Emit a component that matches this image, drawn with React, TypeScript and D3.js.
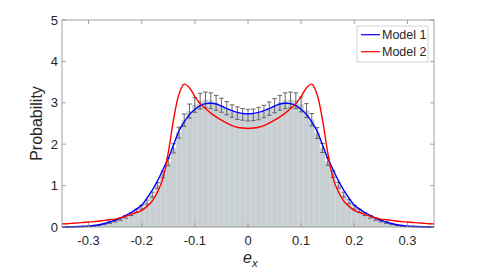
import React from "react";
import * as d3 from "d3";

// histogram bin centres, -0.34 ... 0.34 (bin width 0.01)
const binCenters = d3.range(-34, 35).map((i) => i / 100);

const binValues = [
	0.003, 0.006, 0.01, 0.014, 0.02, 0.03, 0.048, 0.072, 0.105, 0.145, 0.19, 0.245,
	0.31, 0.39, 0.48, 0.6, 0.78, 1.0, 1.27, 1.57, 1.9, 2.28, 2.58, 2.8, 2.95, 3.04,
	3.07, 3.05, 3.0, 2.94, 2.87, 2.8, 2.75, 2.72, 2.7,
	2.71, 2.74, 2.79, 2.86, 2.93, 3.0, 3.05, 3.07, 3.05, 2.96, 2.81, 2.59, 2.27, 1.91,
	1.58, 1.28, 1.01, 0.78, 0.61, 0.48, 0.39, 0.31, 0.245, 0.19, 0.145, 0.105, 0.072,
	0.048, 0.03, 0.02, 0.014, 0.01, 0.006, 0.003,
];

const binErrors = [
	0.004, 0.005, 0.006, 0.007, 0.008, 0.01, 0.012, 0.015, 0.018, 0.022, 0.026, 0.03,
	0.035, 0.04, 0.045, 0.05, 0.06, 0.07, 0.08, 0.09, 0.11, 0.13, 0.15, 0.17, 0.18,
	0.19, 0.19, 0.19, 0.18, 0.17, 0.16, 0.15, 0.15, 0.14, 0.14,
	0.14, 0.15, 0.15, 0.16, 0.17, 0.18, 0.19, 0.19, 0.19, 0.18, 0.17, 0.15, 0.13, 0.11,
	0.09, 0.08, 0.07, 0.06, 0.05, 0.045, 0.04, 0.035, 0.03, 0.026, 0.022, 0.018, 0.015,
	0.012, 0.01, 0.008, 0.007, 0.006, 0.005, 0.004,
];

// model curves sampled at -0.35 ... 0.35
const modelX = d3.range(-35, 36).map((i) => i / 100);

const model1 = [
	0.0, 0.0, 0.005, 0.01, 0.015, 0.02, 0.035, 0.055, 0.085, 0.12, 0.16, 0.22, 0.28,
	0.35, 0.43, 0.53, 0.7, 0.89, 1.12, 1.39, 1.66, 1.99, 2.32, 2.54, 2.72, 2.84, 2.93,
	2.98, 2.99, 2.97, 2.92, 2.86, 2.81, 2.77, 2.74,
	2.73,
	2.74, 2.77, 2.81, 2.86, 2.92, 2.97, 2.99, 2.98, 2.93, 2.84, 2.72, 2.54, 2.32, 1.99,
	1.66, 1.39, 1.12, 0.89, 0.7, 0.53, 0.43, 0.35, 0.28, 0.22, 0.16, 0.12, 0.085, 0.055,
	0.035, 0.02, 0.015, 0.01, 0.005, 0.0, 0.0,
];

const model2 = [
	0.075, 0.08, 0.09, 0.1, 0.11, 0.12, 0.13, 0.145, 0.16, 0.175, 0.19, 0.22, 0.26, 0.3,
	0.35, 0.4, 0.5, 0.63, 0.85, 1.18, 1.8, 2.6, 3.2, 3.45, 3.36, 3.15, 2.98, 2.86, 2.75,
	2.66, 2.58, 2.51, 2.45, 2.41, 2.39,
	2.38,
	2.39, 2.41, 2.45, 2.51, 2.58, 2.66, 2.75, 2.86, 2.98, 3.15, 3.36, 3.45, 3.2, 2.6,
	1.8, 1.18, 0.85, 0.63, 0.5, 0.4, 0.35, 0.3, 0.26, 0.22, 0.19, 0.175, 0.16, 0.145,
	0.13, 0.12, 0.11, 0.1, 0.09, 0.08, 0.075,
];

const xTicks = [-0.3, -0.2, -0.1, 0, 0.1, 0.2, 0.3];
const yTicks = [0, 1, 2, 3, 4, 5];

const legendItems = [
	{ label: "Model 1", color: "#0000ff" },
	{ label: "Model 2", color: "#ff0000" },
];

const W = 481;
const H = 275;
const box = { left: 62, right: 434, top: 20, bottom: 227 };
const font = "'Liberation Sans', Arial, Helvetica, sans-serif";

export default function App() {
	const x = d3.scaleLinear().domain([-0.35, 0.35]).range([box.left, box.right]);
	const y = d3.scaleLinear().domain([0, 5]).range([box.bottom, box.top]);
	const binW = 0.01;

	const line = (vals: number[]) =>
		d3
			.line<number>()
			.x((d, i) => x(modelX[i]))
			.y((d) => y(d))
			.curve(d3.curveCatmullRom.alpha(0.5))(vals) as string;

	const tick = 4;
	const cap = 2.3;

	return (
		<div style={{ position: "absolute", left: 0, top: 0 }}>
			<svg width={W} height={H} style={{ display: "block", background: "#fff" }}>
				{/* histogram */}
				<g>
					{binCenters.map((c, i) => (
						<rect
							key={i}
							x={x(c - binW / 2)}
							y={y(binValues[i])}
							width={x(c + binW / 2) - x(c - binW / 2)}
							height={y(0) - y(binValues[i])}
							fill="#c8cfd2"
							stroke="#d6dcde"
							strokeWidth={0.4}
						/>
					))}
				</g>
				{/* error bars */}
				<g stroke="#666" strokeWidth={1}>
					{binCenters.map((c, i) => {
						const cx = x(c);
						const y0 = y(binValues[i] - binErrors[i]);
						const y1 = y(binValues[i] + binErrors[i]);
						return (
							<g key={i}>
								<line x1={cx} x2={cx} y1={y0} y2={y1} />
								<line x1={cx - cap} x2={cx + cap} y1={y0} y2={y0} />
								<line x1={cx - cap} x2={cx + cap} y1={y1} y2={y1} />
							</g>
						);
					})}
				</g>
				{/* model curves */}
				<path d={line(model1)} fill="none" stroke="#0000ff" strokeWidth={1.4} />
				<path d={line(model2)} fill="none" stroke="#ff0000" strokeWidth={1.4} />

				{/* axes box */}
				<g stroke="#8a8a8a" strokeWidth={0.8} fill="none">
					<rect
						x={box.left}
						y={box.top}
						width={box.right - box.left}
						height={box.bottom - box.top}
					/>
					{xTicks.map((t) => (
						<g key={t}>
							<line x1={x(t)} x2={x(t)} y1={box.bottom} y2={box.bottom - tick} />
							<line x1={x(t)} x2={x(t)} y1={box.top} y2={box.top + tick} />
						</g>
					))}
					{yTicks.map((t) => (
						<g key={t}>
							<line x1={box.left} x2={box.left + tick} y1={y(t)} y2={y(t)} />
							<line x1={box.right} x2={box.right - tick} y1={y(t)} y2={y(t)} />
						</g>
					))}
				</g>

				{/* tick labels */}
				<g fontFamily={font} fontSize={13} fill="#262626">
					{xTicks.map((t) => (
						<text key={t} x={x(t)} y={245} textAnchor="middle">
							{t === 0 ? "0" : d3.format(".1f")(t).replace("\u2212", "-")}
						</text>
					))}
					{yTicks.map((t) => (
						<text key={t} x={58} y={y(t)} dy="0.35em" textAnchor="end">
							{t}
						</text>
					))}
				</g>

				{/* axis labels */}
				<text
					transform={`translate(42,${(box.top + box.bottom) / 2}) rotate(-90)`}
					textAnchor="middle"
					fontFamily={font}
					fontSize={16}
					fill="#262626"
				>
					Probability
				</text>
				<text x={243} y={263} fontFamily={font} fontSize={16} fontStyle="italic" fill="#262626">
					e
					<tspan fontSize={11.5} dy={4}>
						x
					</tspan>
				</text>

				{/* legend */}
				<g>
					<rect x={357} y={26} width={71} height={36} fill="#fff" stroke="#c8c8c8" strokeWidth={0.8} />
					{legendItems.map((d, i) => (
						<g key={d.label} transform={`translate(0,${34.7 + i * 17})`}>
							<line x1={361} x2={380} y1={0} y2={0} stroke={d.color} strokeWidth={1.2} />
							<text x={382} y={0} dy="0.35em" fontFamily={font} fontSize={12.5} fill="#262626">
								{d.label}
							</text>
						</g>
					))}
				</g>
			</svg>
		</div>
	);
}
